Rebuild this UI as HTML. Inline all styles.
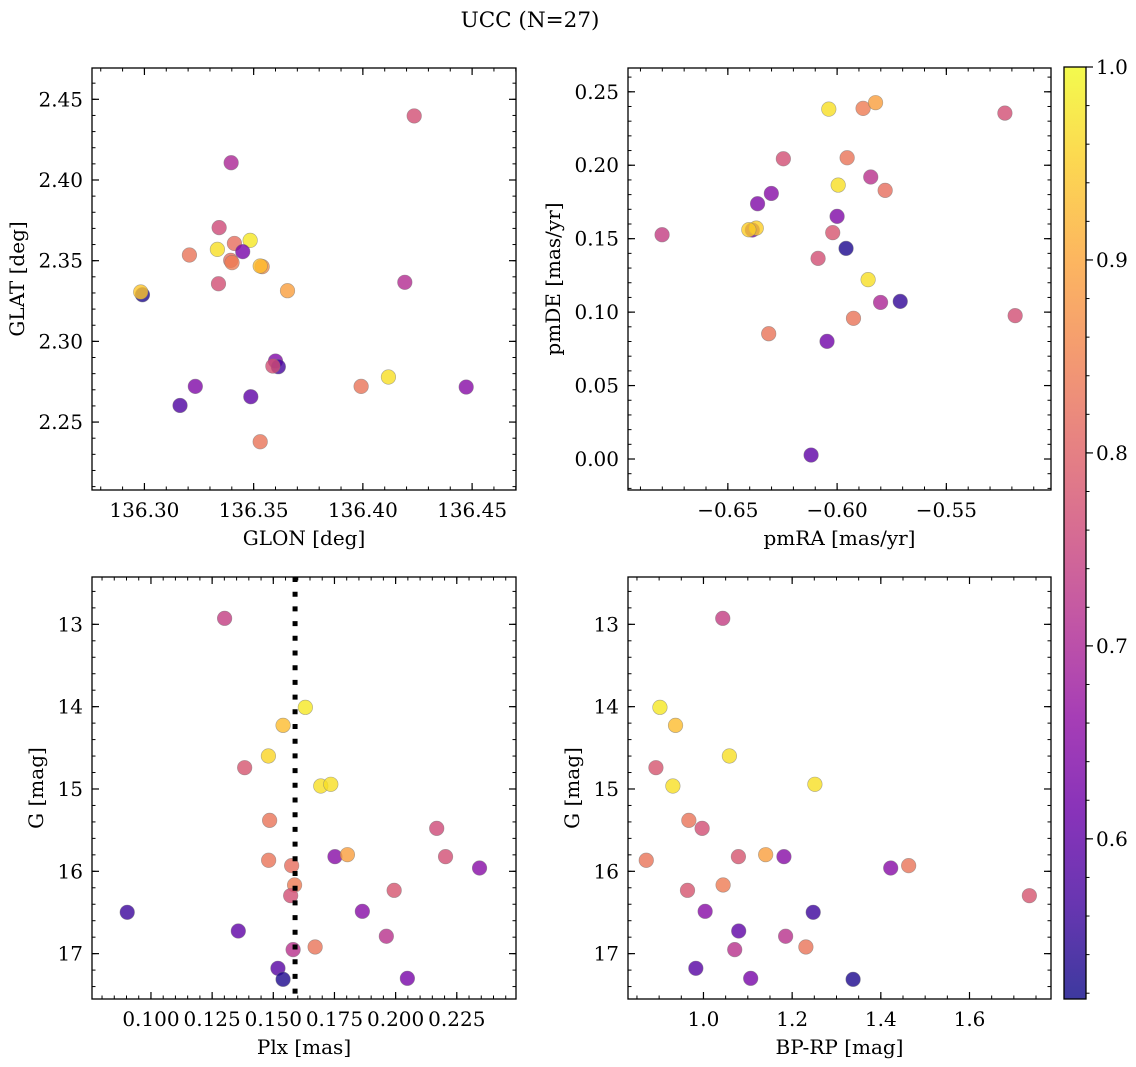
<!DOCTYPE html>
<html>
<head>
<meta charset="utf-8">
<style>
  html,body{margin:0;padding:0;background:#fff;}
  svg{display:block;font-family:"DejaVu Serif","Liberation Serif",serif;}
  text{fill:#000;}
</style>
</head>
<body>
<svg id="fig" width="1136" height="1067" viewBox="0 0 1136 1067" xmlns="http://www.w3.org/2000/svg">
  <rect x="0" y="0" width="1136" height="1067" fill="#fff"/>
  <text x="530" y="27" font-size="21.5" text-anchor="middle">UCC (N=27)</text>
</svg>
<script>
// ---------- Panel 1: GLON vs GLAT ----------
const glon = [136.4235,136.3397,136.3342,136.3206,136.3334,136.3412,136.3484,136.3450,136.3395,136.3401,136.3539,136.3530,136.3339,136.2991,136.2983,136.3655,136.4192,136.3600,136.3613,136.3588,136.3233,136.3163,136.3487,136.3992,136.4117,136.4473,136.3530];
const glat = [2.4397,2.4107,2.3705,2.3535,2.3570,2.3607,2.3626,2.3556,2.3502,2.3488,2.3463,2.3467,2.3357,2.3289,2.3306,2.3314,2.3366,2.2878,2.2843,2.2847,2.2721,2.2603,2.2657,2.2721,2.2779,2.2717,2.2378];
const probP1 = [0.77,0.70,0.76,0.83,0.97,0.82,0.98,0.63,0.82,0.84,0.87,0.93,0.77,0.53,0.94,0.89,0.71,0.64,0.57,0.77,0.64,0.58,0.60,0.83,0.97,0.65,0.83];
const p1XTicks = [136.30,136.35,136.40,136.45];
const p1YTicks = [2.25,2.30,2.35,2.40,2.45];

// ---------- Panel 2: pmRA vs pmDE ----------
const pmra = [-0.6038,-0.5881,-0.5824,-0.5232,-0.6246,-0.5954,-0.5846,-0.5780,-0.5995,-0.6301,-0.6364,-0.6000,-0.6388,-0.6370,-0.6404,-0.6801,-0.6020,-0.5959,-0.6087,-0.5858,-0.5801,-0.5711,-0.5185,-0.5925,-0.6313,-0.6046,-0.6119];
const pmde = [0.2382,0.2387,0.2426,0.2355,0.2044,0.2051,0.1920,0.1829,0.1865,0.1808,0.1738,0.1652,0.1559,0.1572,0.1561,0.1527,0.1541,0.1434,0.1366,0.1221,0.1066,0.1073,0.0976,0.0958,0.0853,0.0801,0.0027];
const probP2 = [0.97,0.84,0.89,0.77,0.77,0.83,0.72,0.82,0.97,0.65,0.64,0.64,0.62,0.95,0.95,0.74,0.78,0.53,0.77,0.97,0.70,0.55,0.77,0.83,0.83,0.62,0.60];
const p2XTicks = [-0.65,-0.60,-0.55];
const p2YTicks = [0.00,0.05,0.10,0.15,0.20,0.25];

// ---------- Panel 3: Plx vs G ----------
const plx = [0.1301,0.1631,0.1540,0.1480,0.1383,0.1694,0.1735,0.1485,0.2168,0.1481,0.1575,0.1752,0.1803,0.2204,0.2343,0.1587,0.1571,0.1994,0.0903,0.1864,0.1357,0.1962,0.1581,0.1671,0.1519,0.1540,0.2048];
const gmagP3 = [12.927,14.008,14.227,14.599,14.741,14.964,14.943,15.381,15.478,15.866,15.931,15.822,15.798,15.822,15.960,16.166,16.296,16.231,16.498,16.486,16.725,16.789,16.951,16.919,17.178,17.312,17.300];
const probP3 = [0.74,0.98,0.93,0.96,0.78,0.97,0.97,0.83,0.76,0.83,0.82,0.65,0.89,0.77,0.65,0.84,0.77,0.78,0.56,0.65,0.60,0.72,0.72,0.83,0.59,0.53,0.63];
const plxLine = [0.1589];
const p3XTicks = [0.100,0.125,0.150,0.175,0.200,0.225];
const p3YTicks = [13,14,15,16,17];

// ---------- Panel 4: BP-RP vs G ----------
const bprp = [1.0435,0.9018,0.9370,1.0585,0.8928,0.9310,1.2513,0.9670,0.9970,0.8710,1.0788,1.1403,1.1815,1.4223,1.4628,1.7350,0.9640,1.0443,1.0038,1.2475,1.0795,1.1853,1.0705,1.2310,0.9828,1.1065,1.3375];
const gmagP4 = [12.927,14.008,14.227,14.599,14.741,14.964,14.943,15.381,15.478,15.866,15.822,15.798,15.822,15.960,15.931,16.296,16.231,16.166,16.486,16.498,16.725,16.789,16.951,16.919,17.178,17.300,17.312];
const probP4 = [0.74,0.98,0.93,0.97,0.78,0.97,0.97,0.83,0.77,0.83,0.78,0.89,0.65,0.65,0.83,0.78,0.78,0.84,0.65,0.56,0.60,0.72,0.72,0.83,0.59,0.63,0.53];
const p4XTicks = [1.0,1.2,1.4,1.6];
const p4YTicks = [13,14,15,16,17];

// ---------- Colorbar ----------
const cbTicks = [0.6,0.7,0.8,0.9,1.0];
const cbRange = [0.517,1.0];

const NS = "http://www.w3.org/2000/svg";
const svg = document.getElementById('fig');
const FS = 20;

const plasmaStops = ["#0d0887","#41049d","#6a00a8","#8f0da4","#b12a90","#cc4778","#e16462","#f2844b","#fca636","#fcce25","#f0f921"];
function hex2rgb(h){return [parseInt(h.substr(1,2),16),parseInt(h.substr(3,2),16),parseInt(h.substr(5,2),16)];}
function plasma(t){
  t=Math.max(0,Math.min(1,t));
  const f=t*10, i=Math.min(9,Math.floor(f)), r=f-i;
  const a=hex2rgb(plasmaStops[i]), b=hex2rgb(plasmaStops[i+1]);
  return 'rgb('+a.map((v,k)=>Math.round(v+(b[k]-v)*r)).join(',')+')';
}
function colorFor(p){return plasma((p-cbRange[0])/(cbRange[1]-cbRange[0]));}

function el(tag, attrs, parent){
  const e=document.createElementNS(NS,tag);
  for(const k in attrs) e.setAttribute(k,attrs[k]);
  (parent||svg).appendChild(e);
  return e;
}

function drawPanel(cfg){
  const g=el('g',{});
  
  
  const {x0,x1,y0,y1}=cfg.box;
  const sx=v=>x0+(v-cfg.xd[0])/(cfg.xd[1]-cfg.xd[0])*(x1-x0);
  const sy=v=>y1-(v-cfg.yd[0])/(cfg.yd[1]-cfg.yd[0])*(y1-y0);
  const cid='clip-'+cfg.name;
  const cp=el('clipPath',{id:cid},g);
  el('rect',{x:x0,y:y0,width:x1-x0,height:y1-y0},cp);
  const eps=1e-9;
  function range(lo,hi,step){const out=[];let s=Math.ceil((lo-eps)/step);for(let v=s*step;v<=hi+eps;v=(++s)*step) out.push(v);return out;}
  range(Math.min(...cfg.xd),Math.max(...cfg.xd),cfg.xMinor).forEach(v=>{
    const x=sx(v);
    el('line',{x1:x,x2:x,y1:y1,y2:y1-3.5,stroke:'#000','stroke-width':1},g);
    el('line',{x1:x,x2:x,y1:y0,y2:y0+3.5,stroke:'#000','stroke-width':1},g);
  });
  range(Math.min(...cfg.yd),Math.max(...cfg.yd),cfg.yMinor).forEach(v=>{
    const y=sy(v);
    el('line',{x1:x0,x2:x0+3.5,y1:y,y2:y,stroke:'#000','stroke-width':1},g);
    el('line',{x1:x1,x2:x1-3.5,y1:y,y2:y,stroke:'#000','stroke-width':1},g);
  });
  cfg.xTicks.forEach(v=>{
    const x=sx(v);
    el('line',{x1:x,x2:x,y1:y1,y2:y1-7,stroke:'#000','stroke-width':1.2},g);
    el('line',{x1:x,x2:x,y1:y0,y2:y0+7,stroke:'#000','stroke-width':1.2},g);
    const t=el('text',{x:x,y:y1+27,'font-size':FS,'text-anchor':'middle'},g);
    t.textContent=cfg.xfmt(v);
    
    
  });
  cfg.yTicks.forEach(v=>{
    const y=sy(v);
    el('line',{x1:x0,x2:x0+7,y1:y,y2:y,stroke:'#000','stroke-width':1.2},g);
    el('line',{x1:x1,x2:x1-7,y1:y,y2:y,stroke:'#000','stroke-width':1.2},g);
    const t=el('text',{x:x0-9,y:y+7,'font-size':FS,'text-anchor':'end'},g);
    t.textContent=cfg.yfmt(v);
    
    
  });
  const xl=el('text',{x:(x0+x1)/2,y:y1+55,'font-size':FS,'text-anchor':'middle'},g);
  xl.textContent=cfg.xlabel;
  
  
  const yl=el('text',{x:cfg.ylx,y:(y0+y1)/2,'font-size':FS,'text-anchor':'middle',transform:'rotate(-90 '+cfg.ylx+' '+(y0+y1)/2+')'},g);
  yl.textContent=cfg.ylabel;
  
  
  const pg=el('g',{'clip-path':'url(#'+cid+')'},g);
  cfg.xs.forEach((xv,i)=>{
    const c=el('circle',{cx:sx(xv),cy:sy(cfg.ys[i]),r:7.3,fill:colorFor(cfg.ps[i]),'fill-opacity':0.8,stroke:'#777','stroke-opacity':0.6,'stroke-width':0.6},pg);
    
    
  });
  if(cfg.vline){
    cfg.vline.forEach(v=>{
      const l=el('line',{x1:sx(v),x2:sx(v),y1:y0,y2:y1,stroke:'#000','stroke-width':5,'stroke-dasharray':'5 9.7'},pg);
      
      
    });
  }
  el('rect',{x:x0,y:y0,width:x1-x0,height:y1-y0,fill:'none',stroke:'#000','stroke-width':1.3},g);
}

drawPanel({name:'panel-glon-glat',box:{x0:92,x1:516,y0:68,y1:490},xd:[136.2760,136.4701],yd:[2.2079,2.4694],
  xs:glon,ys:glat,ps:probP1,xTicks:p1XTicks,yTicks:p1YTicks,xMinor:0.01,yMinor:0.01,
  xfmt:v=>v.toFixed(2),yfmt:v=>v.toFixed(2),xlabel:'GLON [deg]',ylabel:'GLAT [deg]',ylx:24});
drawPanel({name:'panel-pmra-pmde',box:{x0:628,x1:1051,y0:68,y1:490},xd:[-0.6957,-0.5021],yd:[-0.0211,0.2662],
  xs:pmra,ys:pmde,ps:probP2,xTicks:p2XTicks,yTicks:p2YTicks,xMinor:0.01,yMinor:0.01,
  xfmt:v=>(v<0?'\u2212':'')+Math.abs(v).toFixed(2),yfmt:v=>v.toFixed(2),xlabel:'pmRA [mas/yr]',ylabel:'pmDE [mas/yr]',ylx:560});
drawPanel({name:'panel-plx-g',box:{x0:92,x1:516,y0:577,y1:999},xd:[0.0759,0.2492],yd:[17.551,12.425],
  xs:plx,ys:gmagP3,ps:probP3,xTicks:p3XTicks,yTicks:p3YTicks,xMinor:0.005,yMinor:0.2,vline:plxLine,
  xfmt:v=>v.toFixed(3),yfmt:v=>v.toFixed(0),xlabel:'Plx [mas]',ylabel:'G [mag]',ylx:43});
drawPanel({name:'panel-bprp-g',box:{x0:628,x1:1051,y0:577,y1:999},xd:[0.8298,1.7838],yd:[17.551,12.425],
  xs:bprp,ys:gmagP4,ps:probP4,xTicks:p4XTicks,yTicks:p4YTicks,xMinor:0.05,yMinor:0.2,
  xfmt:v=>v.toFixed(1),yfmt:v=>v.toFixed(0),xlabel:'BP-RP [mag]',ylabel:'G [mag]',ylx:579});

(function(){
  const cx0=1064,cx1=1086,cy0=67,cy1=999;
  const g=el('g',{});
  
  
  const defs=el('defs',{},g);
  const lg=el('linearGradient',{id:'cbgrad',x1:0,y1:1,x2:0,y2:0},defs);
  for(let i=0;i<=20;i++){el('stop',{offset:(i/20),'stop-color':plasma(i/20)},lg);}
  el('rect',{x:cx0,y:cy0,width:cx1-cx0,height:cy1-cy0,fill:'url(#cbgrad)','fill-opacity':0.8},g);
  const sy=v=>cy1-(v-cbRange[0])/(cbRange[1]-cbRange[0])*(cy1-cy0);
  for(let k=Math.ceil(cbRange[0]/0.02);k*0.02<=cbRange[1]+1e-9;k++){
    const y=sy(k*0.02);
    el('line',{x1:cx1,x2:cx1+3.5,y1:y,y2:y,stroke:'#000','stroke-width':1},g);
  }
  cbTicks.forEach(v=>{
    const y=sy(v);
    el('line',{x1:cx1,x2:cx1+7,y1:y,y2:y,stroke:'#000','stroke-width':1.2},g);
    const t=el('text',{x:cx1+10,y:y+7,'font-size':FS,'text-anchor':'start'},g);
    t.textContent=v.toFixed(1);
    
    
  });
  el('rect',{x:cx0,y:cy0,width:cx1-cx0,height:cy1-cy0,fill:'none',stroke:'#000','stroke-width':1.3},g);
})();
</script>
</body>
</html>
